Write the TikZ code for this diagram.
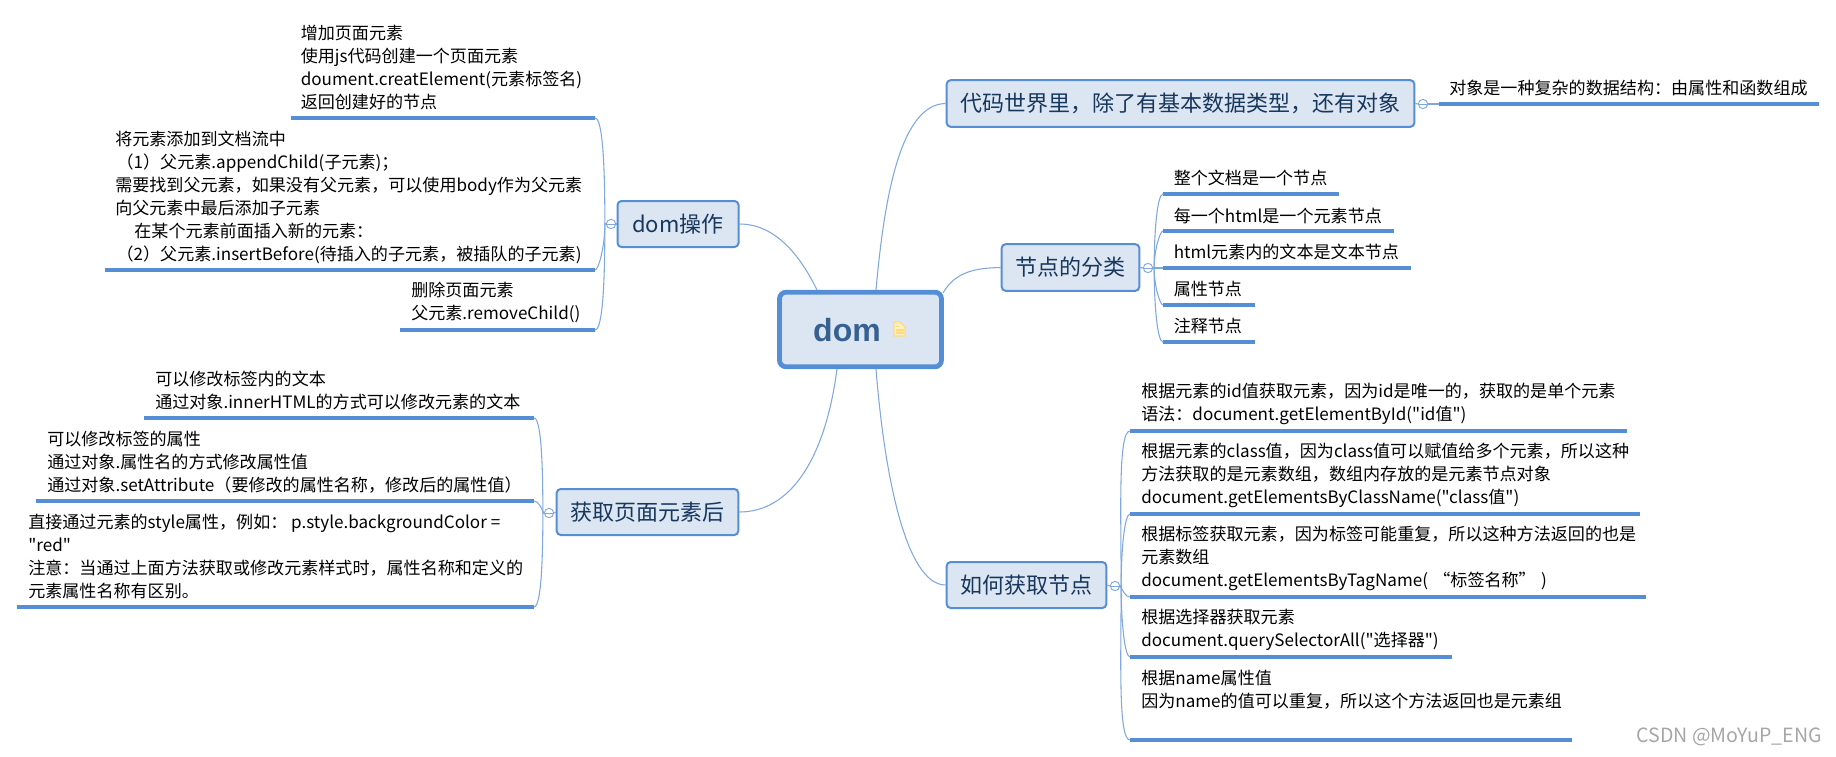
\documentclass[tikz,border=0pt]{standalone}
\usepackage{fontspec}
\setmainfont[Ligatures=TeXOff]{Noto Sans CJK SC}
\newfontfamily\rootfont{Liberation Sans}
\definecolor{linecol}{HTML}{558ED5}
\definecolor{curvecol}{HTML}{7FA8DE}
\definecolor{boxfill}{HTML}{DCE6F2}
\definecolor{boxtext}{HTML}{17375E}
\definecolor{roottext}{HTML}{376092}
\definecolor{markcol}{HTML}{A6A6A6}
\definecolor{notecol}{HTML}{FFF0C4}
\definecolor{notedark}{HTML}{FFD980}
\tikzset{
  x=.75pt,y=.75pt,
  leaf/.style={anchor=west,inner sep=0pt,align=left,text=black,font=\fontsize{12.8pt}{17.25pt}\selectfont},
  topicbox/.style={draw=linecol,fill=boxfill,line width=1.5pt,rounded corners=3pt,inner sep=0pt,text=boxtext,font=\fontsize{16.5pt}{20pt}\selectfont},
  rootbox/.style={draw=linecol,fill=boxfill,line width=3.6pt,rounded corners=5pt,inner sep=0pt,minimum width=121.5pt,minimum height=56pt},
  under/.style={draw=linecol,line width=2.4pt},
  curve/.style={draw=curvecol,line width=.8pt},
  fold/.style={draw=curvecol,fill=white,line width=.7pt,circle,inner sep=0pt,minimum size=7pt},
}
\newcommand{\foldmark}[2]{\node[fold] (#1) at (#2) {};\draw[curvecol,line width=.6pt] ($(#1.west)+(1.5,0)$) -- ($(#1.east)+(-1.5,0)$);}
\usetikzlibrary{calc}
\begin{document}
\begin{tikzpicture}
\useasboundingbox (0,0) rectangle (1836,-757);
% root connector ends, on the root box's border
\coordinate (r1) at (876,-290);
\coordinate (r2) at (943,-293);
\coordinate (r3) at (876,-369);
\coordinate (r4) at (817,-290);
\coordinate (r5) at (837,-369);
% main topics
\node[topicbox,minimum width=350.75pt,minimum height=35pt] (t1) at (1180.5,-103.5) {代码世界里，除了有基本数据类型，还有对象};
\node[topicbox,minimum width=103.25pt,minimum height=35pt] (t2) at (1070.5,-267.5) {节点的分类};
\node[topicbox,minimum width=119.75pt,minimum height=34.5pt] (t3) at (1026.5,-585) {如何获取节点};
\node[topicbox,minimum width=90.75pt,minimum height=34.5pt] (t4) at (678,-224) {dom操作};
\node[topicbox,minimum width=136.25pt,minimum height=34.5pt] (t5) at (647.5,-512) {获取页面元素后};
\draw[curve] (r1) .. controls (884,-200) and (900,-104) .. (t1.west);
\draw[curve] (r2) .. controls (955,-272) and (975,-268) .. (t2.west);
\draw[curve] (r3) .. controls (884,-470) and (905,-585) .. (t3.west);
\draw[curve] (r4) .. controls (800,-255) and (775,-224) .. (t4.east);
\draw[curve] (r5) .. controls (825,-460) and (790,-512) .. (t5.east);
% root
\node[rootbox] (root) at (860.5,-329.5) {};
\node[anchor=center,inner sep=0pt,text=roottext,font=\rootfont\fontsize{24pt}{28pt}\selectfont\bfseries] (roott) at (847,-330) {dom};
\draw[notedark,fill=notecol,line width=.9pt,line join=round] (894,-322) -- (900,-322) -- (905,-327) -- (905,-336) -- (894,-336) -- cycle;
\draw[notedark,line width=1.2pt] (896,-326.5) -- (899,-326.5) (895.5,-330) -- (903.5,-330) (895.5,-333) -- (903.5,-333);
% fold marks
\foldmark{f1}{1423,-104}
\foldmark{f2}{1148,-268}
\foldmark{f3}{1115,-586}
\foldmark{f4}{611,-224}
\foldmark{f5}{549,-513}
\draw[curve] (t1.east) -- (f1.west);
\draw[curve] (t2.east) -- (f2.west);
\draw[curve] (t3.east) -- (f3.west);
\draw[curve] (t4.west) -- (f4.east);
\draw[curve] (t5.west) -- (f5.east);
% t1 leaf
\node[leaf] (a1) at (1449,-88) {对象是一种复杂的数据结构：由属性和函数组成};
\coordinate (a1s) at (1439,-104); \coordinate (a1e) at (1819,-104);
\draw[under] (a1s) -- (a1e);
\draw[curve] (f1.east) -- (a1s);
% t2 leaves
\node[leaf] (b1) at (1173.5,-178) {整个文档是一个节点};
\node[leaf] (b2) at (1173.5,-216) {每一个html是一个元素节点};
\node[leaf] (b3) at (1173.5,-252) {html元素内的文本是文本节点};
\node[leaf] (b4) at (1173.5,-289) {属性节点};
\node[leaf] (b5) at (1173.5,-326) {注释节点};
\coordinate (b1s) at (1163,-194); \coordinate (b1e) at (1339,-194);
\coordinate (b2s) at (1163,-231); \coordinate (b2e) at (1394,-231);
\coordinate (b3s) at (1163,-268); \coordinate (b3e) at (1411,-268);
\coordinate (b4s) at (1163,-305); \coordinate (b4e) at (1255,-305);
\coordinate (b5s) at (1163,-342); \coordinate (b5e) at (1255,-342);
\draw[under] (b1s)--(b1e) (b2s)--(b2e) (b3s)--(b3e) (b4s)--(b4e) (b5s)--(b5e);
\draw[curve] (f2.east) -- ++(1,0) to[out=90,in=180,out looseness=1.2,in looseness=.2] (b1s);
\draw[curve] (f2.east) -- ++(1,0) to[out=90,in=180,out looseness=1.2,in looseness=.2] (b2s);
\draw[curve] (f2.east) -- (b3s);
\draw[curve] (f2.east) -- ++(1,0) to[out=-90,in=180,out looseness=1.2,in looseness=.2] (b4s);
\draw[curve] (f2.east) -- ++(1,0) to[out=-90,in=180,out looseness=1.2,in looseness=.2] (b5s);
% t3 leaves
\node[leaf] (c1) at (1141,-403.5) {根据元素的id值获取元素，因为id是唯一的，获取的是单个元素\\语法：document.getElementById("id值")};
\node[leaf] (c2) at (1141,-475) {根据元素的class值，因为class值可以赋值给多个元素，所以这种\\方法获取的是元素数组，数组内存放的是元素节点对象\\document.getElementsByClassName("class值")};
\node[leaf] (c3) at (1141,-558) {根据标签获取元素，因为标签可能重复，所以这种方法返回的也是\\元素数组\\document.getElementsByTagName(\hspace{4pt}“标签名称”\hspace{4pt})};
\node[leaf] (c4) at (1141,-629.5) {根据选择器获取元素\\document.querySelectorAll("选择器")};
\node[leaf] (c5) at (1141,-689.5) {根据name属性值\\因为name的值可以重复，所以这个方法返回也是元素组};
\coordinate (c1s) at (1130,-431); \coordinate (c1e) at (1627,-431);
\coordinate (c2s) at (1130,-514); \coordinate (c2e) at (1640,-514);
\coordinate (c3s) at (1130,-597); \coordinate (c3e) at (1646,-597);
\coordinate (c4s) at (1130,-657); \coordinate (c4e) at (1452,-657);
\coordinate (c5s) at (1130,-740); \coordinate (c5e) at (1572,-740);
\draw[under] (c1s)--(c1e) (c2s)--(c2e) (c3s)--(c3e) (c4s)--(c4e) (c5s)--(c5e);
\draw[curve] (f3.east) -- ++(1,0) to[out=90,in=180,out looseness=1.2,in looseness=.2] (c1s);
\draw[curve] (f3.east) -- ++(1,0) to[out=90,in=180,out looseness=1.2,in looseness=.2] (c2s);
\draw[curve] (f3.east) to[out=-60,in=180,looseness=.8] (c3s);
\draw[curve] (f3.east) -- ++(1,0) to[out=-90,in=180,out looseness=1.2,in looseness=.2] (c4s);
\draw[curve] (f3.east) -- ++(1,0) to[out=-90,in=180,out looseness=1.2,in looseness=.2] (c5s);
% t4 leaves
\node[leaf] (d1) at (300.5,-67.5) {增加页面元素\\使用js代码创建一个页面元素\\doument.creatElement(元素标签名)\\返回创建好的节点};
\node[leaf] (d2) at (115,-197.5) {将元素添加到文档流中\\\hspace*{1pt}（1）父元素.appendChild(子元素)；\\需要找到父元素，如果没有父元素，可以使用body作为父元素\\向父元素中最后添加子元素\\\ \ \ \ \ 在某个元素前面插入新的元素：\\\hspace*{1pt}（2）父元素.insertBefore(待插入的子元素，被插队的子元素)};
\node[leaf] (d3) at (411,-302.5) {删除页面元素\\父元素.removeChild()};
\coordinate (d1s) at (291,-118); \coordinate (d1e) at (595,-118);
\coordinate (d2s) at (105,-270); \coordinate (d2e) at (595,-270);
\coordinate (d3s) at (400,-330); \coordinate (d3e) at (595,-330);
\draw[under] (d1s)--(d1e) (d2s)--(d2e) (d3s)--(d3e);
\draw[curve] (f4.west) -- ++(-1,0) to[out=90,in=0,out looseness=1.2,in looseness=.2] (d1e);
\draw[curve] (f4.west) -- ++(-1,0) to[out=-90,in=0,out looseness=1.2,in looseness=.2] (d2e);
\draw[curve] (f4.west) -- ++(-1,0) to[out=-90,in=0,out looseness=1.2,in looseness=.2] (d3e);
% t5 leaves
\node[leaf] (e1) at (155,-390.5) {可以修改标签内的文本\\通过对象.innerHTML的方式可以修改元素的文本};
\node[leaf] (e2) at (47,-462) {可以修改标签的属性\\通过对象.属性名的方式修改属性值\\通过对象.setAttribute（要修改的属性名称，修改后的属性值）};
\node[leaf] (e3) at (28,-557) {直接通过元素的style属性，例如： p.style.backgroundColor =\\"red"\\注意：当通过上面方法获取或修改元素样式时，属性名称和定义的\\元素属性名称有区别。};
\coordinate (e1s) at (144,-418); \coordinate (e1e) at (534,-418);
\coordinate (e2s) at (36,-501); \coordinate (e2e) at (534,-501);
\coordinate (e3s) at (17,-607); \coordinate (e3e) at (534,-607);
\draw[under] (e1s)--(e1e) (e2s)--(e2e) (e3s)--(e3e);
\draw[curve] (f5.west) -- ++(-1,0) to[out=90,in=0,out looseness=1.2,in looseness=.2] (e1e);
\draw[curve] (f5.west) to[out=120,in=0,looseness=.8] (e2e);
\draw[curve] (f5.west) -- ++(-1,0) to[out=-90,in=0,out looseness=1.2,in looseness=.2] (e3e);
% watermark
\node[anchor=east,inner sep=0pt,text=markcol,font=\fontsize{14.7pt}{16pt}\selectfont] (wm) at (1822,-737) {CSDN @MoYuP\_ENG};
\end{tikzpicture}
\end{document}
